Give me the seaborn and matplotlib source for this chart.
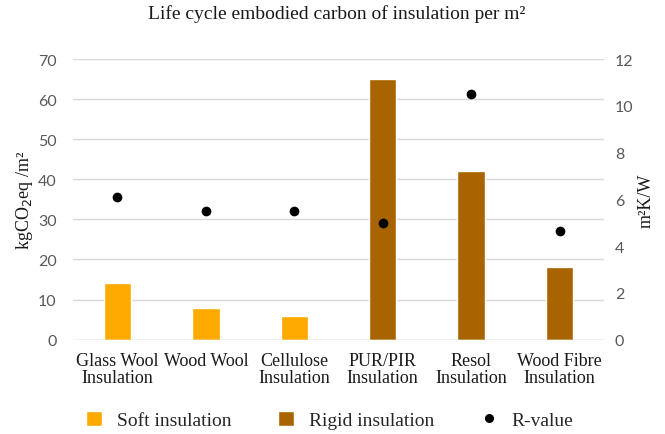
# Life cycle embodied carbon of insulation (bars) with R-value (dots)
import numpy as np
import pandas as pd
import seaborn as sns
import matplotlib.pyplot as plt
from matplotlib.patches import Patch
from matplotlib.lines import Line2D

# Data
materials = ["Glass Wool\nInsulation", "Wood Wool", "Cellulose\nInsulation",
             "PUR/PIR\nInsulation", "Resol\nInsulation", "Wood Fibre\nInsulation"]
insulation_type = ["Soft insulation", "Soft insulation", "Soft insulation",
                   "Rigid insulation", "Rigid insulation", "Rigid insulation"]
carbon = [14, 8, 6, 65, 42, 18]            # kgCO2eq/m2
r_value = [6.1, 5.5, 5.5, 5.0, 10.5, 4.65]   # m2K/W

palette = {"Soft insulation": "#FFAA00", "Rigid insulation": "#A86400"}

data = pd.DataFrame({"Material": materials, "Type": insulation_type,
                     "Carbon": carbon, "R": r_value})

sns.set_style("white")
serif = "Liberation Serif"
sans = "Lato"
tick_col = "#595959"
text_col = "#1a1a1a"

fig = plt.figure(figsize=(6.65, 4.35), dpi=100)
ax = fig.add_axes([0.11, 0.217, 0.798, 0.645])

sns.barplot(data=data, x="Material", y="Carbon", hue="Type", palette=palette,
            dodge=False, width=0.31, saturation=1, legend=False, ax=ax)
ax.set_ylim(0, 70)
ax.set_yticks(range(0, 71, 10))
ax.grid(axis="y", color="#D9D9D9", linewidth=1)
ax.set_axisbelow(True)
ax.set_xlabel("")
ax.set_ylabel("kgCO$_2$eq /m²", fontfamily=serif, fontsize=13, color=text_col, labelpad=2)
ax.tick_params(axis="y", length=0, labelsize=11.5, labelcolor=tick_col, pad=12)
ax.tick_params(axis="x", length=0, pad=9)
for lab in ax.get_yticklabels():
    lab.set_fontfamily(sans)
for lab in ax.get_xticklabels():
    lab.set_fontfamily(serif)
    lab.set_fontsize(13)
    lab.set_color(text_col)
    lab.set_linespacing(1.0)

ax2 = ax.twinx()
sns.stripplot(data=data, x="Material", y="R", jitter=False, color="black",
              size=7, ax=ax2)
ax2.set_ylim(0, 12)
ax2.set_yticks(range(0, 13, 2))
ax2.set_ylabel("m²K/W", fontfamily=serif, fontsize=13, color=text_col, labelpad=3)
ax2.tick_params(axis="y", length=0, labelsize=11.5, labelcolor=tick_col, pad=8)
for lab in ax2.get_yticklabels():
    lab.set_fontfamily(sans)
ax2.grid(False)

for a in (ax, ax2):
    for s in a.spines.values():
        s.set_visible(False)
ax.axhline(0, color="#D9D9D9", linewidth=1)

fig.suptitle("Life cycle embodied carbon of insulation per m²", fontfamily=serif,
             fontsize=14, color=text_col, x=0.507, y=0.968, va="center")

handles = [Patch(facecolor=palette["Soft insulation"], label="Soft insulation"),
           Patch(facecolor=palette["Rigid insulation"], label="Rigid insulation"),
           Line2D([], [], marker="o", color="black", linestyle="none",
                  markersize=5.5, label="R-value")]
fig.legend(handles=handles, loc="center left", bbox_to_anchor=(0.129, 0.032), ncol=3,
           frameon=False, prop={"family": serif, "size": 14}, borderpad=0,
           borderaxespad=0, handlelength=0.82, handleheight=0.82,
           columnspacing=2.4, handletextpad=0.77)

plt.savefig("out.png", dpi=100)
